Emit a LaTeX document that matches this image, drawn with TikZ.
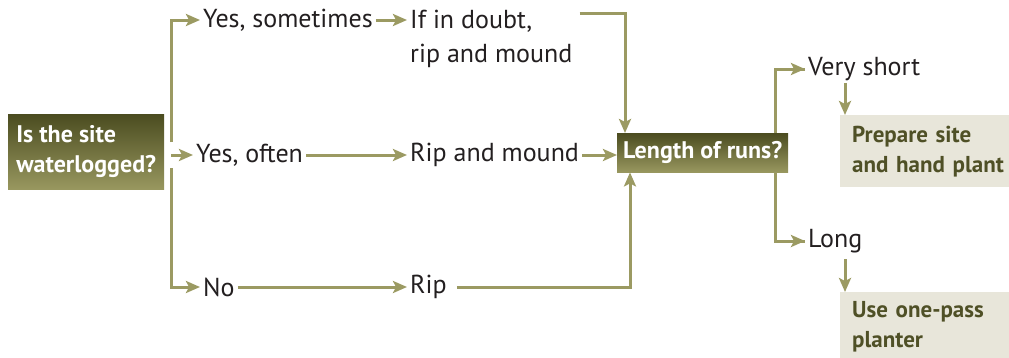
\documentclass[tikz,border=0pt]{standalone}
\usepackage{fontspec}
\setmainfont{PT Sans}
\usetikzlibrary{arrows.meta}
\definecolor{lc}{HTML}{9B9A62}
\definecolor{tc}{HTML}{231F20}
\definecolor{dk}{HTML}{4B4C20}
\definecolor{lt}{HTML}{98975F}
\definecolor{pale}{HTML}{E8E6DA}
\definecolor{dt}{HTML}{4F5026}
\begin{document}
\begin{tikzpicture}[x=1pt,y=-1pt,
  ln/.style={line width=3pt, draw=lc},
  arr/.style={ln, -{Stealth[length=14pt,width=12pt,inset=3pt]}},
  lbl/.style={font=\fontsize{26}{34}\selectfont, text=tc, inner xsep=3pt, inner ysep=0pt, align=left},
  qbox/.style={font=\bfseries\fontsize{24}{30}\selectfont, text=white, top color=dk, bottom color=lt, inner sep=0pt, align=left, anchor=north west},
  abox/.style={font=\bfseries\fontsize{23}{30}\selectfont, text=dt, fill=pale, inner sep=0pt, align=left, anchor=north west, text width=165pt, inner xsep=12pt}
]
\useasboundingbox (0,0) rectangle (1009,357);
% boxes
\node[qbox, minimum width=156pt, minimum height=75pt] (q) at (8,114) {Is the site\\waterlogged?};
\node[qbox, minimum width=171pt, minimum height=39pt] (L) at (617,133) {Length of runs?};
\node[abox, minimum height=72pt] (P) at (840,115) {Prepare site\\and hand plant};
\node[abox, minimum height=70pt] (U) at (840,292) {Use one-pass\\planter};
% labels
\node[lbl, anchor=west] (ys) at (200,20) {Yes, sometimes};
\node[lbl, anchor=north west] (ifd) at (407,10) {If in doubt,\\rip and mound};
\node[lbl, anchor=west] (yo) at (193,155) {Yes, often};
\node[lbl, anchor=west] (rm) at (407,155) {Rip and mound};
\node[lbl, anchor=west] (no) at (200,287) {No};
\node[lbl, anchor=west] (rip) at (407,287) {Rip};
\node[lbl, anchor=west] (vs) at (805,69) {Very short};
\node[lbl, anchor=west] (lg) at (805,241) {Long};
% connectors
\coordinate (g1) at (171,142);
\coordinate (g2) at (171,168);
\draw[arr] (g1) |- (ys.west);
\draw[arr] (g1 |- yo.west) -- (yo.west);
\draw[arr] (g2) |- (no.west);
\draw[arr] (ys.east) -- (ys.east -| ifd.west);
\draw[arr] (yo.east) -- (rm.west);
\draw[arr] (no.east) -- (rip.west);
\draw[arr] (rm.east) -- (rm.east -| L.west);
\draw[arr] ([xshift=4pt,yshift=-3pt]ifd.north east) -| ([xshift=8pt]L.north west);
\draw[arr] ([xshift=7pt]rip.east) -| ([xshift=13pt]L.south west);
\draw[ln] ([xshift=-13pt]L.north east) |- (vs.west);
\draw[arr] ([xshift=-13pt]L.north east |- vs.west) -- (vs.west);
\draw[ln] ([xshift=-13pt]L.south east) |- (lg.west);
\draw[arr] ([xshift=-13pt]L.south east |- lg.west) -- (lg.west);
\draw[arr] ([xshift=5pt,yshift=-2pt]P.north west |- vs.south) -- ([xshift=5pt]P.north west);
\draw[arr] ([xshift=5pt,yshift=-6pt]U.north west |- lg.south) -- ([xshift=5pt]U.north west);
\end{tikzpicture}
\end{document}
